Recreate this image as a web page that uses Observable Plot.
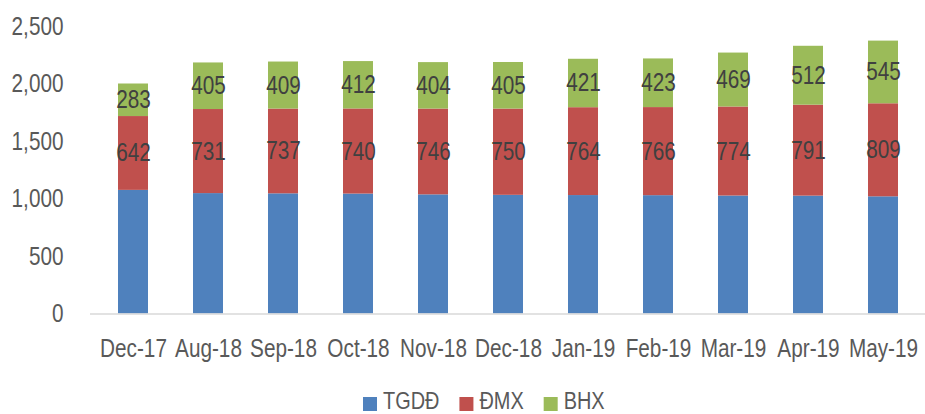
<!DOCTYPE html>
<html>
<head>
<meta charset="utf-8">
<script src="https://cdn.jsdelivr.net/npm/d3@7"></script>
<script src="https://cdn.jsdelivr.net/npm/@observablehq/plot@0.6"></script>
<style>
  html, body { margin: 0; padding: 0; background: #fff; }
  body { width: 925px; height: 414px; position: relative; overflow: hidden;
         font-family: "Liberation Sans", Arial, sans-serif; }
  #chart { position: absolute; top: 0; left: 0; }
  #legend { position: absolute; top: 380px; left: 0; }
</style>
</head>
<body>
<div id="chart"></div>
<div id="legend"></div>
<script>
const months = ["Dec-17","Aug-18","Sep-18","Oct-18","Nov-18","Dec-18","Jan-19","Feb-19","Mar-19","Apr-19","May-19"];
const tgdd = [1075,1047,1045,1043,1036,1032,1030,1029,1026,1025,1019];
const dmx  = [642,731,737,740,746,750,764,766,774,791,809];
const bhx  = [283,405,409,412,404,405,421,423,469,512,545];
const seriesNames = ["TGDĐ","ĐMX","BHX"];
const seriesColors = ["#4F81BD","#C0504D","#9BBB59"];
const yTicks = [0,500,1000,1500,2000,2500];

const values = [tgdd, dmx, bhx];
const data = months.flatMap((m, i) => seriesNames.map((s, k) => ({month: m, series: s, value: values[k][i]})));

const font = '"Liberation Sans", Arial, sans-serif';
const narrow = 0.83;

const chart = Plot.plot({
  width: 925,
  height: 380,
  marginLeft: 90,
  marginRight: 0,
  marginTop: 26,
  marginBottom: 66.5,
  style: {fontFamily: font, fontSize: "25px", color: "#595959", background: "#fff"},
  x: {domain: months, paddingInner: 0.6, paddingOuter: 0.3, label: null, tickSize: 0, tickPadding: 25},
  y: {domain: [0, 2500], ticks: yTicks, tickFormat: d3.format(","), label: null, tickSize: 0, tickPadding: 27},
  color: {domain: seriesNames, range: seriesColors},
  marks: [
    Plot.barY(data, {x: "month", y: "value", fill: "series", order: seriesNames}),
    Plot.ruleY([0], {stroke: "#d9d9d9", strokeWidth: 1.5}),
    Plot.text(data, Plot.stackY({
      x: "month", y: "value", z: "series", order: seriesNames,
      text: d => d.series === "TGDĐ" ? "" : String(d.value),
      fill: "#404040", fontSize: 25
    }))
  ]
});
// narrow (condensed) look of the original font
chart.querySelectorAll("text").forEach(t => {
  const tr = t.getAttribute("transform") || "";
  t.setAttribute("transform", (tr + " scale(" + narrow + ",1)").trim());
});
document.getElementById("chart").appendChild(chart);

// legend below the plot, as its own small SVG
const lsvg = d3.select("#legend").append("svg")
  .attr("width", 925).attr("height", 34)
  .style("font-family", font).style("font-size", "24px");
let xPos = 363;
seriesNames.forEach((s, i) => {
  lsvg.append("rect").attr("x", xPos).attr("y", 17).attr("width", 14).attr("height", 14)
    .attr("fill", seriesColors[i]);
  const t = lsvg.append("text").attr("fill", "#595959").text(s)
    .attr("transform", `translate(${xPos + 20},29) scale(${narrow},1)`);
  const w = t.node().getComputedTextLength() * narrow;
  xPos += 20 + w + 20;
});
</script>
</body>
</html>
